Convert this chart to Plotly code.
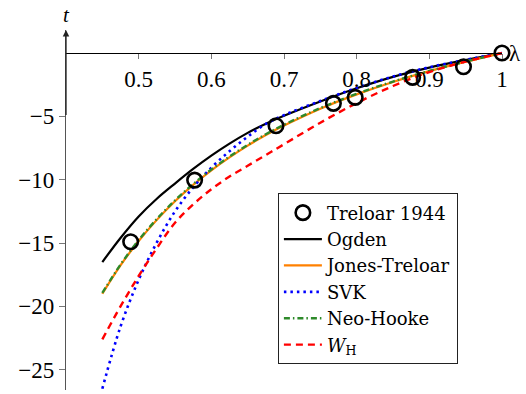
import plotly.graph_objects as go

# stretch values (lambda) at which the model curves were read
lam = [0.45, 0.475, 0.5, 0.525, 0.55, 0.575, 0.6, 0.625, 0.65, 0.675, 0.7,
       0.75, 0.8, 0.85, 0.9, 0.95, 1.0]

ogden = [-16.5, -14.6, -12.9, -11.5, -10.3, -9.15, -8.1, -7.15, -6.3, -5.58, -4.95,
         -3.82, -2.78, -1.88, -1.15, -0.55, 0.0]
jones_treloar = [-19.0, -16.76, -14.84, -13.17, -11.70, -10.41, -9.26, -8.24, -7.31, -6.47, -5.72,
                 -4.39, -3.26, -2.28, -1.43, -0.68, 0.0]
svk = [-26.5, -21.6, -17.9, -14.95, -12.5, -10.6, -9.05, -7.75, -6.6, -5.6, -4.9,
       -3.78, -2.75, -1.85, -1.12, -0.53, 0.0]
neo_hooke = [-18.94, -16.70, -14.77, -13.10, -11.63, -10.34, -9.19, -8.17, -7.25, -6.41, -5.66,
             -4.34, -3.22, -2.25, -1.41, -0.67, 0.0]
w_h = [-22.6, -20.0, -17.6, -15.4, -13.4, -11.95, -10.75, -9.75, -8.9, -8.05, -7.2,
       -5.5, -3.95, -2.6, -1.5, -0.68, 0.0]

# Treloar 1944 experimental data
tre_lam = [0.489, 0.577, 0.689, 0.768, 0.798, 0.877, 0.947, 1.0]
tre_t = [-14.9, -10.03, -5.74, -3.97, -3.50, -1.92, -1.08, 0.0]

x_ticks = [0.5, 0.6, 0.7, 0.8, 0.9, 1.0]
x_tick_text = ["0.5", "0.6", "0.7", "0.8", "0.9", "1"]
y_ticks = [-25, -20, -15, -10, -5]
y_tick_text = ["\u221225", "\u221220", "\u221215", "\u221210", "\u22125"]

X_RANGE = [0.4, 1.0]
Y_RANGE = [-26.6, 1.82]

FONT = "Liberation Serif, Times New Roman, serif"
LEG_FONT = "DejaVu Serif, serif"
TICK_SIZE = 23
LEG_SIZE = 18

fig = go.Figure()
fig.add_trace(go.Scatter(x=lam, y=ogden, mode="lines", name="Ogden", legendrank=2,
                         line=dict(color="black", width=2.2, shape="spline")))
fig.add_trace(go.Scatter(x=lam, y=jones_treloar, mode="lines", name="Jones-Treloar", legendrank=3,
                         line=dict(color="#FF8000", width=2.2, shape="spline")))
fig.add_trace(go.Scatter(x=lam, y=svk, mode="lines", name="SVK", legendrank=4,
                         line=dict(color="#0000FF", width=2.6, dash="2.5px,4px", shape="spline")))
fig.add_trace(go.Scatter(x=lam, y=neo_hooke, mode="lines", name="Neo-Hooke", legendrank=5,
                         line=dict(color="#2E8A2A", width=2.4, dash="6px,3px,1.5px,3px", shape="spline")))
fig.add_trace(go.Scatter(x=lam, y=w_h, mode="lines", name="<i>W</i><sub>H</sub>", legendrank=6,
                         line=dict(color="#FF0000", width=2.4, dash="7px,5px", shape="spline")))
fig.add_trace(go.Scatter(x=tre_lam, y=tre_t, mode="markers", name="Treloar 1944", legendrank=1,
                         cliponaxis=False,
                         marker=dict(symbol="circle-open", size=14.5, color="black",
                                     line=dict(width=2.6, color="black"))))

# x axis sits at t = 0
x_pos = (0 - Y_RANGE[0]) / (Y_RANGE[1] - Y_RANGE[0])

fig.update_layout(
    width=526, height=394,
    margin=dict(l=66, r=24, t=30, b=4),
    paper_bgcolor="white", plot_bgcolor="white",
    font=dict(family=FONT, size=TICK_SIZE, color="black"),
    showlegend=True,
    legend=dict(x=0.486, y=0.546, xanchor="left", yanchor="top",
                bgcolor="white", bordercolor="#222", borderwidth=1,
                font=dict(family=LEG_FONT, size=LEG_SIZE), itemwidth=38,
                tracegroupgap=0),
    xaxis=dict(range=X_RANGE, anchor="free", position=x_pos, side="bottom",
               showgrid=False, zeroline=False, showline=True, linecolor="black", linewidth=1,
               tickmode="array", tickvals=x_ticks, ticktext=x_tick_text,
               ticks="outside", ticklen=5, tickcolor="#777", tickwidth=1,
               tickfont=dict(family=FONT, size=TICK_SIZE), automargin=False),
    yaxis=dict(range=Y_RANGE, showgrid=False, zeroline=False, showline=True,
               linecolor="#555", linewidth=1.3,
               tickmode="array", tickvals=y_ticks, ticktext=y_tick_text,
               ticks="outside", ticklen=6, tickcolor="#777", tickwidth=1,
               tickfont=dict(family=FONT, size=TICK_SIZE), automargin=False),
    annotations=[
        dict(x=X_RANGE[0], y=Y_RANGE[1], ax=X_RANGE[0], ay=-6, xref="x", yref="y",
             axref="x", ayref="y", text=" ", showarrow=True, arrowhead=2,
             arrowsize=1, arrowwidth=1.3, arrowcolor="#222"),
        dict(x=X_RANGE[0], y=1.0 + 15 / 360, xref="x", yref="paper", text="<i>t</i>",
             showarrow=False, font=dict(family=FONT, size=21), xanchor="center", yanchor="middle"),
        dict(x=X_RANGE[1], y=0, xref="x", yref="y", text="\u03bb", showarrow=False,
             xanchor="left", xshift=5, yanchor="middle",
             font=dict(family=FONT, size=TICK_SIZE)),
    ],
)

# remove the default page margin so the 526x394 figure fills the window exactly
fig.write_html("out.html",
               config={"displayModeBar": False},
               post_script="document.body.style.margin='0px';document.body.style.overflow='hidden';")
